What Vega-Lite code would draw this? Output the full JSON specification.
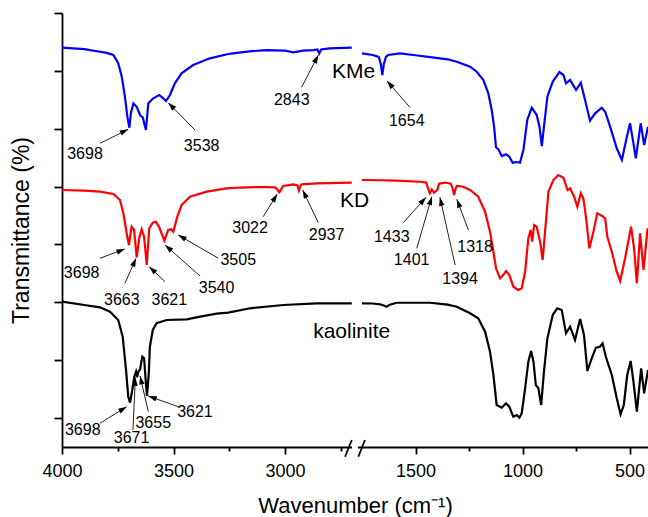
{
  "$schema": "https://vega.github.io/schema/vega-lite/v6.json",
  "width": 586,
  "height": 434,
  "autosize": {"type": "none"},
  "padding": {"left": 62, "top": 13, "right": 0, "bottom": 70},
  "background": "white",
  "config": {
    "view": {"stroke": null},
    "font": "Liberation Sans",
    "axis": {"grid": false, "domainColor": "black", "tickColor": "black", "labelColor": "black", "titleColor": "black", "titleFontWeight": "normal", "labelFont": "Liberation Sans", "titleFont": "Liberation Sans"}
  },
  "datasets": {
    "sp": [
      {"s":"KMe","g":1,"w":4000,"t":6.900},{"s":"KMe","g":1,"w":3950,"t":6.890},{"s":"KMe","g":1,"w":3900,"t":6.877},{"s":"KMe","g":1,"w":3830,"t":6.831},{"s":"KMe","g":1,"w":3800,"t":6.810},{"s":"KMe","g":1,"w":3770,"t":6.774},{"s":"KMe","g":1,"w":3748,"t":6.631},{"s":"KMe","g":1,"w":3732,"t":6.399},{"s":"KMe","g":1,"w":3718,"t":6.053},{"s":"KMe","g":1,"w":3707,"t":5.708},{"s":"KMe","g":1,"w":3698,"t":5.518},{"s":"KMe","g":1,"w":3691,"t":5.772},{"s":"KMe","g":1,"w":3680,"t":5.939},{"s":"KMe","g":1,"w":3665,"t":5.880},{"s":"KMe","g":1,"w":3650,"t":5.737},{"s":"KMe","g":1,"w":3638,"t":5.697},{"s":"KMe","g":1,"w":3624,"t":5.478},{"s":"KMe","g":1,"w":3613,"t":5.939},{"s":"KMe","g":1,"w":3591,"t":6.026},{"s":"KMe","g":1,"w":3564,"t":6.083},{"s":"KMe","g":1,"w":3546,"t":6.026},{"s":"KMe","g":1,"w":3534,"t":5.979},{"s":"KMe","g":1,"w":3516,"t":6.083},{"s":"KMe","g":1,"w":3494,"t":6.285},{"s":"KMe","g":1,"w":3464,"t":6.458},{"s":"KMe","g":1,"w":3412,"t":6.601},{"s":"KMe","g":1,"w":3337,"t":6.717},{"s":"KMe","g":1,"w":3255,"t":6.791},{"s":"KMe","g":1,"w":3234,"t":6.803},{"s":"KMe","g":1,"w":3150,"t":6.840},{"s":"KMe","g":1,"w":3083,"t":6.860},{"s":"KMe","g":1,"w":3000,"t":6.850},{"s":"KMe","g":1,"w":2963,"t":6.820},{"s":"KMe","g":1,"w":2920,"t":6.850},{"s":"KMe","g":1,"w":2874,"t":6.860},{"s":"KMe","g":1,"w":2855,"t":6.870},{"s":"KMe","g":1,"w":2847,"t":6.800},{"s":"KMe","g":1,"w":2838,"t":6.870},{"s":"KMe","g":1,"w":2800,"t":6.890},{"s":"KMe","g":1,"w":2701,"t":6.900},
      {"s":"KMe","g":2,"w":1751,"t":6.803},{"s":"KMe","g":2,"w":1700,"t":6.774},{"s":"KMe","g":2,"w":1672,"t":6.740},{"s":"KMe","g":2,"w":1662,"t":6.620},{"s":"KMe","g":2,"w":1655,"t":6.428},{"s":"KMe","g":2,"w":1648,"t":6.620},{"s":"KMe","g":2,"w":1638,"t":6.740},{"s":"KMe","g":2,"w":1628,"t":6.774},{"s":"KMe","g":2,"w":1572,"t":6.803},{"s":"KMe","g":2,"w":1500,"t":6.770},{"s":"KMe","g":2,"w":1432,"t":6.739},{"s":"KMe","g":2,"w":1350,"t":6.700},{"s":"KMe","g":2,"w":1307,"t":6.658},{"s":"KMe","g":2,"w":1245,"t":6.572},{"s":"KMe","g":2,"w":1214,"t":6.485},{"s":"KMe","g":2,"w":1183,"t":6.342},{"s":"KMe","g":2,"w":1160,"t":6.112},{"s":"KMe","g":2,"w":1144,"t":5.823},{"s":"KMe","g":2,"w":1133,"t":5.535},{"s":"KMe","g":2,"w":1124,"t":5.179},{"s":"KMe","g":2,"w":1113,"t":5.144},{"s":"KMe","g":2,"w":1097,"t":5.029},{"s":"KMe","g":2,"w":1077,"t":5.058},{"s":"KMe","g":2,"w":1062,"t":5.016},{"s":"KMe","g":2,"w":1046,"t":4.913},{"s":"KMe","g":2,"w":1027,"t":4.925},{"s":"KMe","g":2,"w":1012,"t":4.913},{"s":"KMe","g":2,"w":996,"t":5.132},{"s":"KMe","g":2,"w":978,"t":5.651},{"s":"KMe","g":2,"w":957,"t":5.863},{"s":"KMe","g":2,"w":934,"t":5.737},{"s":"KMe","g":2,"w":921,"t":5.535},{"s":"KMe","g":2,"w":910,"t":5.201},{"s":"KMe","g":2,"w":900,"t":5.535},{"s":"KMe","g":2,"w":884,"t":6.053},{"s":"KMe","g":2,"w":859,"t":6.312},{"s":"KMe","g":2,"w":828,"t":6.480},{"s":"KMe","g":2,"w":809,"t":6.428},{"s":"KMe","g":2,"w":797,"t":6.285},{"s":"KMe","g":2,"w":778,"t":6.342},{"s":"KMe","g":2,"w":750,"t":6.169},{"s":"KMe","g":2,"w":728,"t":6.295},{"s":"KMe","g":2,"w":708,"t":5.996},{"s":"KMe","g":2,"w":685,"t":5.639},{"s":"KMe","g":2,"w":661,"t":5.766},{"s":"KMe","g":2,"w":630,"t":5.863},{"s":"KMe","g":2,"w":614,"t":5.794},{"s":"KMe","g":2,"w":591,"t":5.535},{"s":"KMe","g":2,"w":560,"t":5.162},{"s":"KMe","g":2,"w":536,"t":4.959},{"s":"KMe","g":2,"w":516,"t":5.305},{"s":"KMe","g":2,"w":498,"t":5.594},{"s":"KMe","g":2,"w":482,"t":5.248},{"s":"KMe","g":2,"w":471,"t":4.989},{"s":"KMe","g":2,"w":448,"t":5.594},{"s":"KMe","g":2,"w":432,"t":5.219},{"s":"KMe","g":2,"w":414,"t":5.535},
      {"s":"KD","g":1,"w":4000,"t":4.441},{"s":"KD","g":1,"w":3900,"t":4.430},{"s":"KD","g":1,"w":3830,"t":4.412},{"s":"KD","g":1,"w":3770,"t":4.372},{"s":"KD","g":1,"w":3740,"t":4.268},{"s":"KD","g":1,"w":3725,"t":4.038},{"s":"KD","g":1,"w":3710,"t":3.693},{"s":"KD","g":1,"w":3700,"t":3.491},{"s":"KD","g":1,"w":3688,"t":3.807},{"s":"KD","g":1,"w":3677,"t":3.750},{"s":"KD","g":1,"w":3665,"t":3.278},{"s":"KD","g":1,"w":3654,"t":3.606},{"s":"KD","g":1,"w":3643,"t":3.762},{"s":"KD","g":1,"w":3632,"t":3.634},{"s":"KD","g":1,"w":3620,"t":3.145},{"s":"KD","g":1,"w":3609,"t":3.779},{"s":"KD","g":1,"w":3593,"t":3.876},{"s":"KD","g":1,"w":3579,"t":3.893},{"s":"KD","g":1,"w":3564,"t":3.796},{"s":"KD","g":1,"w":3541,"t":3.565},{"s":"KD","g":1,"w":3524,"t":3.750},{"s":"KD","g":1,"w":3511,"t":3.762},{"s":"KD","g":1,"w":3501,"t":3.720},{"s":"KD","g":1,"w":3483,"t":3.980},{"s":"KD","g":1,"w":3464,"t":4.182},{"s":"KD","g":1,"w":3426,"t":4.325},{"s":"KD","g":1,"w":3351,"t":4.412},{"s":"KD","g":1,"w":3262,"t":4.470},{"s":"KD","g":1,"w":3200,"t":4.484},{"s":"KD","g":1,"w":3100,"t":4.493},{"s":"KD","g":1,"w":3045,"t":4.488},{"s":"KD","g":1,"w":3035,"t":4.450},{"s":"KD","g":1,"w":3026,"t":4.401},{"s":"KD","g":1,"w":3015,"t":4.470},{"s":"KD","g":1,"w":3008,"t":4.510},{"s":"KD","g":1,"w":2963,"t":4.539},{"s":"KD","g":1,"w":2945,"t":4.520},{"s":"KD","g":1,"w":2938,"t":4.429},{"s":"KD","g":1,"w":2930,"t":4.520},{"s":"KD","g":1,"w":2926,"t":4.539},{"s":"KD","g":1,"w":2858,"t":4.557},{"s":"KD","g":1,"w":2701,"t":4.567},
      {"s":"KD","g":2,"w":1751,"t":4.614},{"s":"KD","g":2,"w":1650,"t":4.610},{"s":"KD","g":2,"w":1588,"t":4.602},{"s":"KD","g":2,"w":1479,"t":4.584},{"s":"KD","g":2,"w":1450,"t":4.570},{"s":"KD","g":2,"w":1440,"t":4.450},{"s":"KD","g":2,"w":1433,"t":4.384},{"s":"KD","g":2,"w":1424,"t":4.450},{"s":"KD","g":2,"w":1414,"t":4.394},{"s":"KD","g":2,"w":1405,"t":4.420},{"s":"KD","g":2,"w":1397,"t":4.450},{"s":"KD","g":2,"w":1390,"t":4.550},{"s":"KD","g":2,"w":1360,"t":4.570},{"s":"KD","g":2,"w":1335,"t":4.550},{"s":"KD","g":2,"w":1325,"t":4.450},{"s":"KD","g":2,"w":1320,"t":4.355},{"s":"KD","g":2,"w":1312,"t":4.470},{"s":"KD","g":2,"w":1307,"t":4.510},{"s":"KD","g":2,"w":1280,"t":4.500},{"s":"KD","g":2,"w":1245,"t":4.441},{"s":"KD","g":2,"w":1207,"t":4.325},{"s":"KD","g":2,"w":1175,"t":4.066},{"s":"KD","g":2,"w":1152,"t":3.720},{"s":"KD","g":2,"w":1136,"t":3.375},{"s":"KD","g":2,"w":1124,"t":3.088},{"s":"KD","g":2,"w":1105,"t":2.915},{"s":"KD","g":2,"w":1090,"t":2.972},{"s":"KD","g":2,"w":1077,"t":3.041},{"s":"KD","g":2,"w":1062,"t":2.972},{"s":"KD","g":2,"w":1043,"t":2.770},{"s":"KD","g":2,"w":1020,"t":2.713},{"s":"KD","g":2,"w":1004,"t":2.742},{"s":"KD","g":2,"w":988,"t":3.029},{"s":"KD","g":2,"w":973,"t":3.606},{"s":"KD","g":2,"w":962,"t":3.750},{"s":"KD","g":2,"w":955,"t":3.548},{"s":"KD","g":2,"w":946,"t":3.836},{"s":"KD","g":2,"w":934,"t":3.807},{"s":"KD","g":2,"w":918,"t":3.548},{"s":"KD","g":2,"w":906,"t":3.231},{"s":"KD","g":2,"w":895,"t":3.720},{"s":"KD","g":2,"w":879,"t":4.412},{"s":"KD","g":2,"w":856,"t":4.614},{"s":"KD","g":2,"w":833,"t":4.700},{"s":"KD","g":2,"w":809,"t":4.654},{"s":"KD","g":2,"w":790,"t":4.441},{"s":"KD","g":2,"w":778,"t":4.470},{"s":"KD","g":2,"w":759,"t":4.325},{"s":"KD","g":2,"w":744,"t":4.152},{"s":"KD","g":2,"w":728,"t":4.384},{"s":"KD","g":2,"w":716,"t":4.298},{"s":"KD","g":2,"w":703,"t":3.952},{"s":"KD","g":2,"w":688,"t":3.434},{"s":"KD","g":2,"w":669,"t":3.720},{"s":"KD","g":2,"w":651,"t":4.038},{"s":"KD","g":2,"w":630,"t":3.997},{"s":"KD","g":2,"w":614,"t":3.952},{"s":"KD","g":2,"w":604,"t":3.634},{"s":"KD","g":2,"w":583,"t":3.375},{"s":"KD","g":2,"w":560,"t":3.029},{"s":"KD","g":2,"w":544,"t":2.869},{"s":"KD","g":2,"w":521,"t":3.261},{"s":"KD","g":2,"w":493,"t":3.807},{"s":"KD","g":2,"w":479,"t":3.434},{"s":"KD","g":2,"w":466,"t":2.829},{"s":"KD","g":2,"w":451,"t":3.693},{"s":"KD","g":2,"w":435,"t":3.059},{"s":"KD","g":2,"w":416,"t":3.779},
      {"s":"kaolinite","g":1,"w":4000,"t":2.511},{"s":"kaolinite","g":1,"w":3900,"t":2.454},{"s":"kaolinite","g":1,"w":3830,"t":2.414},{"s":"kaolinite","g":1,"w":3785,"t":2.338},{"s":"kaolinite","g":1,"w":3748,"t":2.195},{"s":"kaolinite","g":1,"w":3728,"t":1.906},{"s":"kaolinite","g":1,"w":3713,"t":1.331},{"s":"kaolinite","g":1,"w":3703,"t":0.869},{"s":"kaolinite","g":1,"w":3695,"t":0.766},{"s":"kaolinite","g":1,"w":3685,"t":0.985},{"s":"kaolinite","g":1,"w":3676,"t":1.215},{"s":"kaolinite","g":1,"w":3668,"t":1.301},{"s":"kaolinite","g":1,"w":3663,"t":1.204},{"s":"kaolinite","g":1,"w":3658,"t":1.300},{"s":"kaolinite","g":1,"w":3650,"t":1.343},{"s":"kaolinite","g":1,"w":3640,"t":1.561},{"s":"kaolinite","g":1,"w":3632,"t":1.533},{"s":"kaolinite","g":1,"w":3625,"t":1.158},{"s":"kaolinite","g":1,"w":3619,"t":0.881},{"s":"kaolinite","g":1,"w":3611,"t":1.273},{"s":"kaolinite","g":1,"w":3606,"t":1.733},{"s":"kaolinite","g":1,"w":3593,"t":2.022},{"s":"kaolinite","g":1,"w":3576,"t":2.138},{"s":"kaolinite","g":1,"w":3531,"t":2.195},{"s":"kaolinite","g":1,"w":3441,"t":2.207},{"s":"kaolinite","g":1,"w":3381,"t":2.252},{"s":"kaolinite","g":1,"w":3307,"t":2.304},{"s":"kaolinite","g":1,"w":3255,"t":2.321},{"s":"kaolinite","g":1,"w":3157,"t":2.397},{"s":"kaolinite","g":1,"w":3008,"t":2.454},{"s":"kaolinite","g":1,"w":2858,"t":2.483},{"s":"kaolinite","g":1,"w":2701,"t":2.483},
      {"s":"kaolinite","g":2,"w":1751,"t":2.483},{"s":"kaolinite","g":2,"w":1700,"t":2.480},{"s":"kaolinite","g":2,"w":1666,"t":2.466},{"s":"kaolinite","g":2,"w":1645,"t":2.440},{"s":"kaolinite","g":2,"w":1635,"t":2.424},{"s":"kaolinite","g":2,"w":1620,"t":2.460},{"s":"kaolinite","g":2,"w":1588,"t":2.493},{"s":"kaolinite","g":2,"w":1432,"t":2.493},{"s":"kaolinite","g":2,"w":1350,"t":2.460},{"s":"kaolinite","g":2,"w":1307,"t":2.424},{"s":"kaolinite","g":2,"w":1245,"t":2.310},{"s":"kaolinite","g":2,"w":1207,"t":2.224},{"s":"kaolinite","g":2,"w":1175,"t":1.992},{"s":"kaolinite","g":2,"w":1152,"t":1.647},{"s":"kaolinite","g":2,"w":1136,"t":1.244},{"s":"kaolinite","g":2,"w":1121,"t":0.726},{"s":"kaolinite","g":2,"w":1097,"t":0.679},{"s":"kaolinite","g":2,"w":1077,"t":0.755},{"s":"kaolinite","g":2,"w":1062,"t":0.696},{"s":"kaolinite","g":2,"w":1043,"t":0.524},{"s":"kaolinite","g":2,"w":1027,"t":0.553},{"s":"kaolinite","g":2,"w":1015,"t":0.507},{"s":"kaolinite","g":2,"w":1004,"t":0.582},{"s":"kaolinite","g":2,"w":988,"t":1.014},{"s":"kaolinite","g":2,"w":973,"t":1.474},{"s":"kaolinite","g":2,"w":960,"t":1.659},{"s":"kaolinite","g":2,"w":949,"t":1.474},{"s":"kaolinite","g":2,"w":938,"t":1.071},{"s":"kaolinite","g":2,"w":926,"t":1.014},{"s":"kaolinite","g":2,"w":913,"t":0.726},{"s":"kaolinite","g":2,"w":900,"t":1.301},{"s":"kaolinite","g":2,"w":884,"t":1.878},{"s":"kaolinite","g":2,"w":859,"t":2.281},{"s":"kaolinite","g":2,"w":838,"t":2.397},{"s":"kaolinite","g":2,"w":817,"t":2.367},{"s":"kaolinite","g":2,"w":797,"t":1.965},{"s":"kaolinite","g":2,"w":778,"t":2.079},{"s":"kaolinite","g":2,"w":755,"t":1.849},{"s":"kaolinite","g":2,"w":731,"t":2.212},{"s":"kaolinite","g":2,"w":713,"t":1.935},{"s":"kaolinite","g":2,"w":697,"t":1.313},{"s":"kaolinite","g":2,"w":677,"t":1.533},{"s":"kaolinite","g":2,"w":657,"t":1.716},{"s":"kaolinite","g":2,"w":639,"t":1.733},{"s":"kaolinite","g":2,"w":626,"t":1.792},{"s":"kaolinite","g":2,"w":611,"t":1.560},{"s":"kaolinite","g":2,"w":583,"t":1.244},{"s":"kaolinite","g":2,"w":560,"t":0.842},{"s":"kaolinite","g":2,"w":542,"t":0.565},{"s":"kaolinite","g":2,"w":527,"t":0.726},{"s":"kaolinite","g":2,"w":511,"t":1.244},{"s":"kaolinite","g":2,"w":495,"t":1.486},{"s":"kaolinite","g":2,"w":482,"t":1.128},{"s":"kaolinite","g":2,"w":466,"t":0.610},{"s":"kaolinite","g":2,"w":446,"t":1.360},{"s":"kaolinite","g":2,"w":432,"t":0.928},{"s":"kaolinite","g":2,"w":414,"t":1.331}
    ],
    "ann": [
      {"n":"3698","tx":3703,"ty":5.490,"ax":3830,"ay":5.248,"lx":3897,"ly":5.063},
      {"n":"3538","tx":3524,"ty":5.950,"ax":3404,"ay":5.478,"lx":3374,"ly":5.207},
      {"n":"2843","tx":2851,"ty":6.774,"ax":2926,"ay":6.216,"lx":2970,"ly":5.997},
      {"n":"1654","tx":1633,"ty":6.325,"ax":1526,"ay":5.870,"lx":1541,"ly":5.639},
      {"n":"3698","tx":3718,"ty":3.422,"ax":3830,"ay":3.261,"lx":3912,"ly":3.002},
      {"n":"3663","tx":3668,"ty":3.261,"ax":3718,"ay":2.829,"lx":3732,"ly":2.540},
      {"n":"3621","tx":3609,"ty":3.116,"ax":3538,"ay":2.857,"lx":3519,"ly":2.540},
      {"n":"3540","tx":3538,"ty":3.491,"ax":3381,"ay":2.955,"lx":3307,"ly":2.742},
      {"n":"3505","tx":3479,"ty":3.664,"ax":3299,"ay":3.261,"lx":3210,"ly":3.232},
      {"n":"3022","tx":3035,"ty":4.372,"ax":3098,"ay":3.980,"lx":3157,"ly":3.779},
      {"n":"2937","tx":2921,"ty":4.441,"ax":2851,"ay":3.876,"lx":2814,"ly":3.664},
      {"n":"1433","tx":1451,"ty":4.315,"ax":1557,"ay":3.876,"lx":1611,"ly":3.624},
      {"n":"1401","tx":1424,"ty":4.326,"ax":1494,"ay":3.434,"lx":1518,"ly":3.232},
      {"n":"1394","tx":1386,"ty":4.315,"ax":1315,"ay":3.145,"lx":1292,"ly":2.898},
      {"n":"1318","tx":1307,"ty":4.280,"ax":1253,"ay":3.750,"lx":1222,"ly":3.461},
      {"n":"3698","tx":3710,"ty":0.696,"ax":3830,"ay":0.410,"lx":3907,"ly":0.294},
      {"n":"3671","tx":3671,"ty":1.201,"ax":3682,"ay":0.294,"lx":3688,"ly":0.150},
      {"n":"3655","tx":3650,"ty":1.227,"ax":3613,"ay":0.610,"lx":3591,"ly":0.410},
      {"n":"3621","tx":3613,"ty":0.881,"ax":3479,"ay":0.696,"lx":3404,"ly":0.610}
    ],
    "names": [
      {"n":"KMe","x":2790,"y":6.480},
      {"n":"KD","x":2754,"y":4.251},
      {"n":"kaolinite","x":2874,"y":1.993}
    ],
    "gap": [
      {"x1":2700,"x2":2130,"y1":0,"y2":0}
    ],
    "breaks": [
      {"x1":2731,"y1":-0.168,"x2":2701,"y2":0.121},
      {"x1":2101,"y1":-0.168,"x2":1736,"y2":0.121}
    ]
  },
  "layer": [
    {
      "data": {"name": "sp"},
      "mark": {"type": "line", "strokeWidth": 2.2},
      "encoding": {
        "x": {
          "field": "w", "type": "quantitative",
          "scale": {"domain": [4000, 2700, 1750, 414], "range": [0, 290, 300, 586], "nice": false, "zero": false},
          "axis": {
            "title": "Wavenumber (cm⁻¹)",
            "values": [4000, 3750, 3500, 3250, 3000, 2750, 1500, 1250, 1000, 750, 500],
            "format": "d",
            "labelExpr": "datum.value % 500 === 0 ? datum.label : ''",
            "tickSize": {"condition": {"test": "datum.value % 500 === 0", "value": 7}, "value": 4},
            "tickWidth": 1.8, "domainWidth": 1.8,
            "labelFontSize": 18, "labelPadding": 8, "labelFlush": false, "labelOverlap": false,
            "titleFontSize": 22, "titlePadding": 15
          }
        },
        "y": {
          "field": "t", "type": "quantitative",
          "scale": {"domain": [0, 7.5], "nice": false, "zero": false},
          "axis": {
            "title": "Transmittance (%)",
            "labels": false,
            "values": [0.5, 1, 1.5, 2, 2.5, 3, 3.5, 4, 4.5, 5, 5.5, 6, 6.5, 7, 7.5],
            "tickSize": {"condition": {"test": "datum.value % 1 === 0.5", "value": 8}, "value": 4},
            "tickWidth": 1.8, "domainWidth": 1.8,
            "titleFontSize": 23, "titlePadding": 20
          }
        },
        "color": {"field": "s", "type": "nominal", "scale": {"domain": ["KMe", "KD", "kaolinite"], "range": ["#0000ff", "#ff0000", "#000000"]}, "legend": null},
        "detail": {"field": "g", "type": "nominal"}
      }
    },
    {
      "data": {"name": "ann"},
      "mark": {"type": "rule", "color": "#222222", "strokeWidth": 1},
      "encoding": {
        "x": {"field": "ax", "type": "quantitative"},
        "y": {"field": "ay", "type": "quantitative"},
        "x2": {"field": "tx"},
        "y2": {"field": "ty"}
      }
    },
    {
      "data": {"name": "ann"},
      "transform": [
        {"calculate": "atan2((datum.ax - datum.tx) * (datum.tx > 2000 ? 0.2231 : 0.214), (datum.ty - datum.ay) * 57.87) * 180 / PI", "as": "ang"}
      ],
      "mark": {"type": "point", "shape": "M0,0L0.42,1.3L-0.42,1.3Z", "filled": true, "color": "black", "opacity": 1, "size": 170, "strokeWidth": 0},
      "encoding": {
        "x": {"field": "tx", "type": "quantitative"},
        "y": {"field": "ty", "type": "quantitative"},
        "angle": {"field": "ang", "type": "quantitative", "scale": null}
      }
    },
    {
      "data": {"name": "ann"},
      "mark": {"type": "text", "fontSize": 16, "font": "Liberation Sans", "color": "black", "align": "center", "baseline": "middle"},
      "encoding": {
        "x": {"field": "lx", "type": "quantitative"},
        "y": {"field": "ly", "type": "quantitative"},
        "text": {"field": "n"}
      }
    },
    {
      "data": {"name": "names"},
      "mark": {"type": "text", "fontSize": 21, "font": "Liberation Sans", "color": "black", "align": "left", "baseline": "middle"},
      "encoding": {
        "x": {"field": "x", "type": "quantitative"},
        "y": {"field": "y", "type": "quantitative"},
        "text": {"field": "n"}
      }
    },
    {
      "data": {"name": "gap"},
      "mark": {"type": "rule", "color": "white", "strokeWidth": 4},
      "encoding": {
        "x": {"field": "x1", "type": "quantitative"},
        "y": {"field": "y1", "type": "quantitative"},
        "x2": {"field": "x2"},
        "y2": {"field": "y2"}
      }
    },
    {
      "data": {"name": "breaks"},
      "mark": {"type": "rule", "color": "black", "strokeWidth": 1.8},
      "encoding": {
        "x": {"field": "x1", "type": "quantitative"},
        "y": {"field": "y1", "type": "quantitative"},
        "x2": {"field": "x2"},
        "y2": {"field": "y2"}
      }
    }
  ]
}
